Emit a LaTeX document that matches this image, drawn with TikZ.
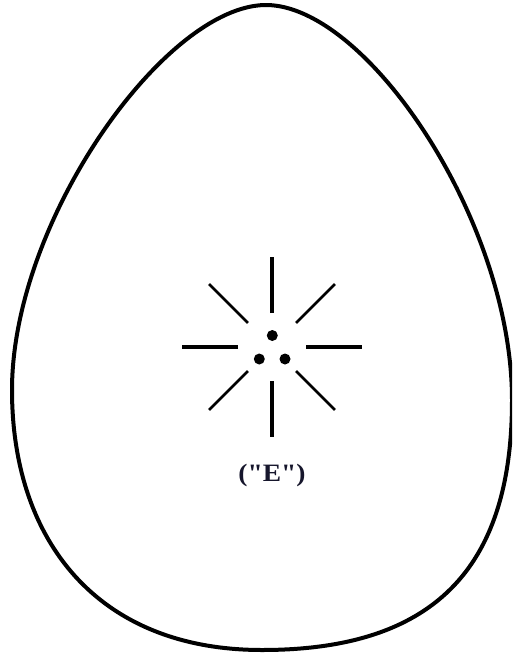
\documentclass[tikz,border=0pt]{standalone}
\usepackage{fontspec}
\newfontfamily\lblfont{Liberation Serif}
\definecolor{inkblue}{RGB}{22,22,44}
\begin{document}
\begin{tikzpicture}[x=1pt,y=-1pt,
  eggline/.style={line width=4pt,line join=round},
  ray/.style={line width=3.1pt},
  diagray/.style={line width=2.6pt},
  dotmark/.style={fill=black}]
\useasboundingbox (0,0) rectangle (512,653);
\clip (0,0) rectangle (512,653);
% egg outline
\coordinate (top) at (266,5);
\coordinate (right) at (512,400);
\coordinate (bottom) at (262,650);
\coordinate (left) at (12,390);
\draw[eggline] (top)
  .. controls (366,5) and (512,220) .. (right)
  .. controls (512,560) and (442,650) .. (bottom)
  .. controls (97,650) and (12,540) .. (left)
  .. controls (12,220) and (166,5) .. (top) -- cycle;
% star
\coordinate (c) at (272,347);
\foreach \a in {0,90,180,270}
  \draw[ray] (c) ++(\a:34) -- ++(\a:56);
\foreach \a in {45,135,225,315}
  \draw[diagray] (c) ++(\a:34) -- ++(\a:55);
\fill[dotmark] (272.3,335.5) circle (5.5);
\fill[dotmark] (259.3,359) circle (5.5);
\fill[dotmark] (285,359) circle (5.5);
\node[text=inkblue, font=\lblfont\bfseries\fontsize{25}{29}\selectfont, inner sep=0pt] (lbl) at (272,475) {\scalebox{1.1}[1]{("E")}};
\end{tikzpicture}
\end{document}
